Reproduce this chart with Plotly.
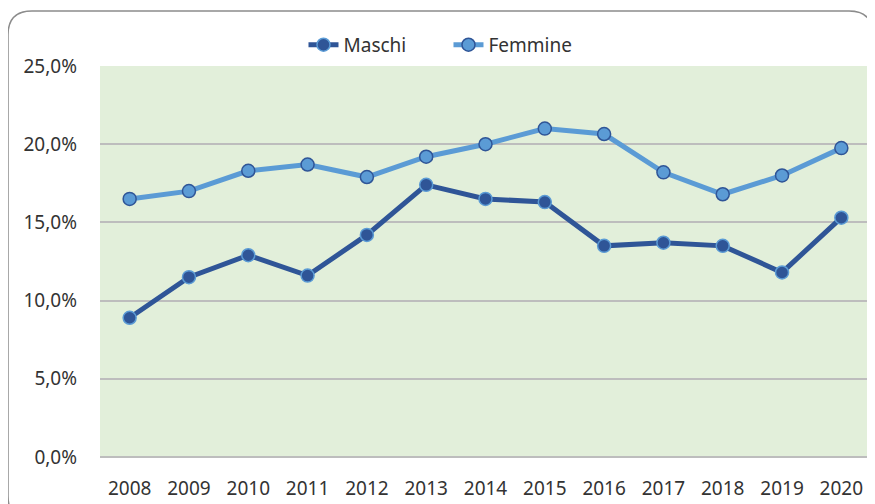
import plotly.graph_objects as go

years = ["2008", "2009", "2010", "2011", "2012", "2013", "2014",
         "2015", "2016", "2017", "2018", "2019", "2020"]
maschi = [8.9, 11.5, 12.9, 11.6, 14.2, 17.4, 16.5, 16.3, 13.5, 13.7, 13.5, 11.8, 15.3]
femmine = [16.5, 17.0, 18.3, 18.7, 17.9, 19.2, 20.0, 21.0, 20.65, 18.2, 16.8, 18.0, 19.75]
y_ticks = [0, 5, 10, 15, 20, 25]
y_tick_labels = ["0,0%", "5,0%", "10,0%", "15,0%", "20,0%", "25,0%"]

DARK = "#2F5597"
LIGHT = "#5B9BD5"
FONT = "Noto Sans, Liberation Sans, sans-serif"
TXT = "#333333"

fig = go.Figure()
fig.add_trace(go.Scatter(
    x=years, y=maschi, name="Maschi", mode="lines+markers",
    line=dict(color=DARK, width=5),
    marker=dict(size=13, color=DARK, line=dict(color=LIGHT, width=1.5)),
))
fig.add_trace(go.Scatter(
    x=years, y=femmine, name="Femmine", mode="lines+markers",
    line=dict(color=LIGHT, width=5),
    marker=dict(size=13, color=LIGHT, line=dict(color=DARK, width=1.5)),
))

# page has an 8px body margin; figure occupies 867x496 starting at (8,8)
OFF = 8
FW, FH = 875 - OFF, 504 - OFF
# plot area in page pixels: x 100..871, y 66..457
L, R, T, B = 100 - OFF, 871 - OFF, 66 - OFF, 457 - OFF
W, H = R - L, B - T
def px(x): return (x - OFF - L) / W
def py(y): return (B - (y - OFF)) / H

x0, x1, y0, y1, r = 8, 873, 11, 520, 24
path = (f"M {px(x0+r)},{py(y0)} L {px(x1-r)},{py(y0)} "
        f"Q {px(x1)},{py(y0)} {px(x1)},{py(y0+r)} "
        f"L {px(x1)},{py(y1-r)} Q {px(x1)},{py(y1)} {px(x1-r)},{py(y1)} "
        f"L {px(x0+r)},{py(y1)} Q {px(x0)},{py(y1)} {px(x0)},{py(y1-r)} "
        f"L {px(x0)},{py(y0+r)} Q {px(x0)},{py(y0)} {px(x0+r)},{py(y0)} Z")

fig.update_layout(
    width=FW, height=FH,
    margin=dict(l=L, r=FW - R, t=T, b=FH - B),
    paper_bgcolor="white",
    plot_bgcolor="#E2EFDA",
    font=dict(family=FONT, size=18, color=TXT),
    showlegend=True,
    legend=dict(orientation="h", x=0.452, xanchor="center", y=1.054, yanchor="middle",
                font=dict(size=19, color=TXT), bgcolor="rgba(0,0,0,0)",
                entrywidth=100, entrywidthmode="pixels"),
    shapes=[dict(type="path", path=path, xref="paper", yref="paper",
                 line=dict(color="#8C8C8C", width=1.5), layer="below")],
    hovermode=False,
)
fig.update_xaxes(
    type="category", range=[-0.5, 12.5], showgrid=False, zeroline=False,
    showline=False, ticks="", ticklabelstandoff=18,
    tickfont=dict(size=19, color=TXT),
)
fig.update_yaxes(
    range=[0, 25], tickvals=y_ticks, ticktext=y_tick_labels,
    showgrid=True, gridcolor="#BDBDBD", gridwidth=2,
    zeroline=True, zerolinecolor="#BDBDBD", zerolinewidth=2,
    showline=False, ticks="", ticklabelstandoff=22,
    tickfont=dict(size=19, color=TXT),
)

fig.write_html("out.html")
